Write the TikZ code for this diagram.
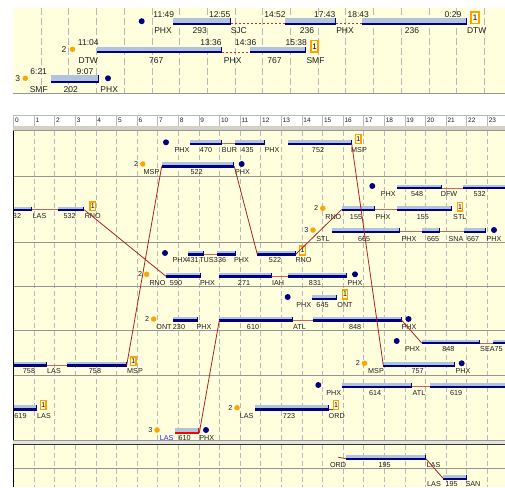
\documentclass[tikz,border=0pt]{standalone}
\usepackage{fontspec}
\setmainfont{Liberation Sans}
\usetikzlibrary{positioning}
\definecolor{cream}{RGB}{255,255,222}
\definecolor{barlite}{RGB}{176,196,222}
\definecolor{navy}{RGB}{0,0,128}
\definecolor{dotorange}{RGB}{255,165,0}
\definecolor{boxorange}{RGB}{255,160,0}
\definecolor{linkred}{RGB}{200,100,100}
\definecolor{tiered}{RGB}{170,35,35}
\definecolor{gapred}{RGB}{225,40,40}
\definecolor{sepgray}{RGB}{150,150,150}
\definecolor{gridgray}{RGB}{185,185,185}
\definecolor{band}{RGB}{212,208,200}
\definecolor{ink}{RGB}{30,30,30}
\definecolor{lasblue}{RGB}{40,40,255}
% one flight bar: [underline colour]{name}{x start}{x end}{y top}{y bottom}
\newcommand{\flight}[6][navy]{%
  \fill[barlite] (#3,#5) rectangle (#4,#6-2);
  \fill[#1] (#3,#6-2.2) rectangle (#4,#6);
  \fill[#1] (#4-1.2,#5) rectangle (#4,#6);
  \coordinate (#2-s) at (#3,#6-1.2);
  \coordinate (#2-e) at (#4,#6-1.2);}

\begin{document}
\begin{tikzpicture}[x=1pt,y=-1pt,
  lbl/.style={font=\fontsize{7.2}{8}\selectfont,inner sep=0pt,text height=5.2pt,text depth=0pt,text=ink},
  tlbl/.style={font=\fontsize{8.5}{9}\selectfont,inner sep=0pt,text height=6.1pt,text depth=0pt,text=ink},
  hr/.style={font=\fontsize{6.5}{7}\selectfont,inner sep=0pt,anchor=west,text=ink},
  odot/.style={circle,fill=dotorange,inner sep=0pt,minimum size=5.5pt},
  ndot/.style={circle,fill=navy,inner sep=0pt,minimum size=6pt},
  onebox/.style={draw=boxorange,line width=1.3pt,fill=cream,inner sep=0pt,minimum width=5.5pt,minimum height=8.8pt,font=\fontsize{7}{7}\selectfont},
  tbox/.style={onebox,line width=1.8pt,minimum width=7.5pt,minimum height=11.5pt,font=\fontsize{8}{8}\selectfont},
  link/.style={draw=linkred,line width=0.8pt},
  tie/.style={draw=tiered,line width=0.8pt},
  gap/.style={draw=gapred,line width=0.8pt,dash pattern=on 2pt off 2pt},
  sep/.style={draw=sepgray,line width=0.8pt},
  gridline/.style={draw=gridgray,line width=0.6pt,dash pattern=on 5pt off 3pt}]
\useasboundingbox (0,0) rectangle (505,487);
\fill[white] (0,0) rectangle (505,487);

% top panel
\fill[cream] (13,8) rectangle (505,93);
\foreach \k in {0,...,16}
  \draw[gridline,dash pattern=on 7pt off 3pt] ({41+27.7*\k},8) -- ({41+27.7*\k},92.5);
\draw[sep] (13,93) -- (505,93);

\node[ndot] (t1d) at (141.7,21.2) {};
\flight{t1f}{173.3}{231}{18.3}{25}
\flight{t1g}{285}{336}{18.3}{25}
\flight{t1h}{362.3}{467.3}{18.3}{25}
\draw[gap] (t1f-e) -- (t1g-s);
\draw[gap] (t1g-e) -- (t1h-s);
\node[tbox] (t1b) at (475,17.7) {1};
\node[tlbl] (t1t1) at (163.8,14.2) {11:49};
\node[tlbl] (t1t2) at (219.7,14.2) {12:55};
\node[tlbl] (t1t3) at (275,14.2) {14:52};
\node[tlbl] (t1t4) at (324.7,14.2) {17:43};
\node[tlbl] (t1t5) at (358.2,14.2) {18:43};
\node[tlbl] (t1t6) at (453,14.2) {0:29};
\node[tlbl] (t1l1) at (163,30) {PHX};
\node[tlbl] (t1l2) at (199.7,30) {293};
\node[tlbl] (t1l3) at (238.8,30) {SJC};
\node[tlbl] (t1l4) at (307,30) {236};
\node[tlbl] (t1l5) at (345,30) {PHX};
\node[tlbl] (t1l6) at (412,30) {236};
\node[tlbl] (t1l7) at (476.7,30) {DTW};

\node[odot] (t2o) at (72.5,49.3) {};
\node[tlbl,left=3pt of t2o] (t2n) {2};
\flight{t2f}{96.7}{222.3}{46.7}{53.3}
\flight{t2g}{250}{306}{46.7}{53.3}
\draw[gap] (t2f-e) -- (t2g-s);
\node[tbox] (t2b) at (314.5,46.3) {1};
\node[tlbl] (t2t1) at (88.3,42.5) {11:04};
\node[tlbl] (t2t2) at (211,42.5) {13:36};
\node[tlbl] (t2t3) at (245.8,42.5) {14:36};
\node[tlbl] (t2t4) at (296.3,42.5) {15:38};
\node[tlbl] (t2l1) at (88.3,60.3) {DTW};
\node[tlbl] (t2l2) at (156.3,60.3) {767};
\node[tlbl] (t2l3) at (232.7,60.3) {PHX};
\node[tlbl] (t2l4) at (274.5,60.3) {767};
\node[tlbl] (t2l5) at (315.5,60.3) {SMF};

\node[odot] (t3o) at (25.3,78.3) {};
\node[tlbl,left=2pt of t3o] (t3n) {3};
\flight{t3f}{50.7}{99.3}{75}{82.7}
\node[ndot] (t3d) at (108,78.3) {};
\node[tlbl] (t3t1) at (38.7,71) {6:21};
\node[tlbl] (t3t2) at (85,71) {9:07};
\node[tlbl] (t3l1) at (38.8,89.3) {SMF};
\node[tlbl] (t3l2) at (70.8,89.3) {202};
\node[tlbl] (t3l3) at (109.2,89.3) {PHX};

% hour ruler
\draw[gridgray,line width=0.6pt] (13,115.5) -- (505,115.5);
\foreach \h in {0,...,23} {
  \draw[gridgray,line width=0.6pt] ({13.5+20.6*\h},115.5) -- ({13.5+20.6*\h},125.5);
  \node[hr] (h\h) at ({14.8+20.6*\h},120.3) {\h};
}
\fill[band] (13,125.5) rectangle (505,130.5);
\draw[sepgray,line width=0.6pt] (13,130.5) -- (505,130.5);

% main and lower panels
\fill[cream] (13.5,131) rectangle (505,440);
\fill[cream] (13.5,445.3) rectangle (505,487);
\foreach \h in {1,...,23} {
  \draw[gridline] ({13.5+20.6*\h},131) -- ({13.5+20.6*\h},440);
  \draw[gridline] ({13.5+20.6*\h},445.3) -- ({13.5+20.6*\h},487);
}
\foreach \y in {176,242,286,330,375,468}
  \draw[sep] (13.5,\y) -- (505,\y);
\draw[sepgray,line width=0.6pt] (13,440.3) -- (505,440.3);
\fill[band!60] (13,440.6) rectangle (505,443.6);
\draw[black!80,line width=1.5pt] (13,444.4) -- (505,444.4);

\begin{scope}
\clip (13.5,131) rectangle (505,487);
% row a
\node[ndot] (a1d) at (166,142.3) {};
\flight{a1f}{190}{221.7}{140}{145}
\flight{a1g}{235}{265}{140}{145}
\flight{a1h}{288.3}{351.7}{140}{145}
\draw[link] (a1f-e) -- (a1g-s);
\node[onebox] (a1b) at (358.3,139) {1};
\node[lbl] (a1l1) at (182,150.2) {PHX};
\node[lbl] (a1l2) at (206,150.2) {470};
\node[lbl] (a1l3) at (229.5,150.2) {BUR};
\node[lbl] (a1l4) at (247.5,150.2) {435};
\node[lbl] (a1l5) at (272,150.2) {PHX};
\node[lbl] (a1l6) at (318,150.2) {752};
\node[lbl] (a1l7) at (359,150.2) {MSP};

\node[odot] (a2o) at (142.8,164) {};
\node[lbl,left=1.5pt of a2o] (a2n) {2};
\flight{a2f}{161.7}{234.3}{162}{167.5}
\node[ndot] (a2d) at (241.7,164) {};
\node[lbl] (a2l1) at (151.5,171.7) {MSP};
\node[lbl] (a2l2) at (196.7,171.7) {522};
\node[lbl] (a2l3) at (242.5,171.7) {PHX};

% row b
\node[ndot] (b1d) at (372.3,186) {};
\flight{b1f}{396.7}{441.7}{184.5}{189.3}
\flight{b1g}{463.3}{515}{184.5}{189.3}
\draw[link] (b1f-e) -- (b1g-s);
\node[lbl] (b1l1) at (388.3,194.2) {PHX};
\node[lbl] (b1l2) at (417,194.2) {548};
\node[lbl] (b1l3) at (449,194.2) {DFW};
\node[lbl] (b1l4) at (479.7,194.2) {532};

\flight{b2f}{5}{31.7}{206.5}{211}
\flight{b2g}{58.3}{84.3}{206.5}{211}
\draw[link] (b2f-e) -- (b2g-s);
\node[onebox] (b2b) at (92.7,206.3) {1};
\node[lbl] (b2l1) at (15,216.2) {532};
\node[lbl] (b2l2) at (39.5,216.2) {LAS};
\node[lbl] (b2l3) at (69.7,216.2) {532};
\node[lbl] (b2l4) at (92.8,216.2) {RNO};

\node[odot] (b2o) at (322.8,208.3) {};
\node[lbl,left=1.5pt of b2o] (b2n) {2};
\flight{b2h}{341.7}{375}{206}{210.7}
\flight{b2k}{396.7}{452.3}{206}{210.7}
\draw[link] (b2h-e) -- (b2k-s);
\node[onebox] (b2c) at (460,206.7) {1};
\node[lbl] (b2l5) at (333.3,216.5) {RNO};
\node[lbl] (b2l6) at (356,216.5) {155};
\node[lbl] (b2l7) at (383,216.5) {PHX};
\node[lbl] (b2l8) at (422.8,216.5) {155};
\node[lbl] (b2l9) at (459.8,216.5) {STL};

\node[odot] (b3o) at (313,230) {};
\node[lbl,left=1.5pt of b3o] (b3n) {3};
\flight{b3f}{331.7}{400}{228.3}{233}
\flight{b3g}{421.7}{440}{228.3}{233}
\flight{b3h}{464}{485.7}{228.3}{233}
\draw[link] (b3f-e) -- (b3g-s);
\draw[link] (b3g-e) -- (b3h-s);
\node[ndot] (b3d) at (494,230) {};
\node[lbl] (b3l1) at (323,238.5) {STL};
\node[lbl] (b3l2) at (364,238.5) {665};
\node[lbl] (b3l3) at (409,238.5) {PHX};
\node[lbl] (b3l4) at (433,238.5) {665};
\node[lbl] (b3l5) at (456,238.5) {SNA};
\node[lbl] (b3l6) at (473,238.5) {667};
\node[lbl] (b3l7) at (494,238.5) {PHX};

% row c
\node[ndot] (c1d) at (165,253) {};
\flight{c1f}{188.3}{204}{250.7}{255.5}
\flight{c1g}{217.3}{236}{250.7}{255.5}
\flight{c1h}{257.3}{295.7}{250.7}{255.5}
\draw[link] (c1f-e) -- (c1g-s);
\node[onebox] (c1b) at (302.5,250.5) {1};
\node[lbl] (c1l1) at (180,260) {PHX};
\node[lbl] (c1l2) at (192.5,260) {431};
\node[lbl] (c1l3) at (206.5,260) {TUS};
\node[lbl] (c1l4) at (220,260) {336};
\node[lbl] (c1l5) at (241.5,260) {PHX};
\node[lbl] (c1l6) at (275,260) {522};
\node[lbl] (c1l7) at (303.5,260) {RNO};

\node[odot] (c2o) at (146.7,274.3) {};
\node[lbl,left=1.5pt of c2o] (c2n) {2};
\flight{c2f}{166}{200.7}{272.7}{277.5}
\flight{c2g}{219.3}{271.7}{272.7}{277.5}
\flight{c2h}{288.3}{346.7}{272.7}{277.5}
\draw[link] (c2g-e) -- (c2h-s);
\node[ndot] (c2d) at (355,274.3) {};
\node[lbl] (c2l1) at (157.5,283) {RNO};
\node[lbl] (c2l2) at (176,283) {590};
\node[lbl] (c2l3) at (207.5,283) {PHX};
\node[lbl] (c2l4) at (244,283) {271};
\node[lbl] (c2l5) at (278,283) {IAH};
\node[lbl] (c2l6) at (315,283) {831};
\node[lbl] (c2l7) at (355,283) {PHX};

% row d
\node[ndot] (d1d) at (287.7,297) {};
\flight{d1f}{311.7}{337}{295}{299.7}
\node[onebox] (d1b) at (345,294.5) {1};
\node[lbl] (d1l1) at (303.7,304.5) {PHX};
\node[lbl] (d1l2) at (322.5,304.5) {645};
\node[lbl] (d1l3) at (345,304.5) {ONT};

\node[odot] (d2o) at (153.7,319) {};
\node[lbl,left=1.5pt of d2o] (d2n) {2};
\flight{d2f}{173.3}{197.7}{316.7}{321.5}
\flight{d2g}{219.3}{292.7}{316.7}{321.5}
\flight{d2h}{312.7}{401.7}{316.7}{321.5}
\draw[link] (d2g-e) -- (d2h-s);
\node[ndot] (d2d) at (408.5,319) {};
\node[lbl] (d2l1) at (164,327) {ONT};
\node[lbl] (d2l2) at (179,327) {230};
\node[lbl] (d2l3) at (204,327) {PHX};
\node[lbl] (d2l4) at (253,327) {610};
\node[lbl] (d2l5) at (299.5,327) {ATL};
\node[lbl] (d2l6) at (355,327) {848};
\node[lbl] (d2l7) at (409,327) {PHX};

% row e
\node[ndot] (e1d) at (396.7,341) {};
\flight{e1f}{421.7}{480}{339.5}{344.2}
\flight{e1g}{493.3}{515}{339.5}{344.2}
\draw[link] (e1f-e) -- (e1g-s);
\node[lbl] (e1l1) at (412.5,349) {PHX};
\node[lbl] (e1l2) at (448.3,349) {848};
\node[lbl,anchor=west] (e1l3) at (480,349) {SEA75};

\node[odot] (e2o) at (364.5,363.3) {};
\node[lbl,left=1.5pt of e2o] (e2n) {2};
\flight{e2f}{383.3}{455}{362}{366.7}
\node[ndot] (e2d) at (461.7,363.3) {};
\node[lbl] (e2l1) at (376,371) {MSP};
\node[lbl] (e2l2) at (417.5,371) {757};
\node[lbl] (e2l3) at (463,371) {PHX};

\flight{e3f}{5}{46.7}{361.7}{366.5}
\flight{e3g}{66.7}{126.7}{361.7}{366.5}
\draw[link] (e3f-e) -- (e3g-s);
\node[onebox] (e3b) at (133.3,361.3) {1};
\node[lbl] (e3l1) at (29,371) {758};
\node[lbl] (e3l2) at (54,371) {LAS};
\node[lbl] (e3l3) at (95,371) {758};
\node[lbl] (e3l4) at (135,371) {MSP};

% row f
\node[ndot] (f1d) at (318.3,385) {};
\flight{f1f}{341.7}{411.7}{383}{387.7}
\flight{f1g}{430}{515}{383}{387.7}
\draw[link] (f1f-e) -- (f1g-s);
\node[lbl] (f1l1) at (333.8,393) {PHX};
\node[lbl] (f1l2) at (375,393) {614};
\node[lbl] (f1l3) at (419,393) {ATL};
\node[lbl] (f1l4) at (456,393) {619};

\flight{f2f}{5}{36.7}{405}{410.5}
\node[onebox] (f2b) at (43.3,405) {1};
\node[lbl] (f2l1) at (20.5,415.5) {619};
\node[lbl] (f2l2) at (44,415.5) {LAS};

\node[odot] (f2o) at (237,407.7) {};
\node[lbl,left=1.5pt of f2o] (f2n) {2};
\flight{f2g}{255}{329}{405}{410.5}
\node[onebox] (f2c) at (336,405) {1};
\draw[tie] (f2g-e) -- (f2g-e -| f2c.west);
\node[lbl] (f2l3) at (246.7,415.5) {LAS};
\node[lbl] (f2l4) at (289,415.5) {723};
\node[lbl] (f2l5) at (336.7,415.5) {ORD};

\node[odot] (f3o) at (157,430) {};
\node[lbl,left=1.5pt of f3o] (f3n) {3};
\flight[red]{f3f}{175}{199.3}{427.7}{434}
\node[ndot] (f3d) at (206,430) {};
\node[lbl,text=lasblue] (f3l1) at (166.7,438) {LAS};
\node[lbl] (f3l2) at (184.7,438) {610};
\node[lbl] (f3l3) at (206.7,438) {PHX};

% lower panel
\coordinate (g0) at (338.3,457.3);
\flight{g1f}{345.7}{425.7}{455}{459.8}
\flight{g2f}{443.3}{466.7}{475}{479.7}
\node[lbl] (g1l1) at (338,464.5) {ORD};
\node[lbl] (g1l2) at (384.5,464.5) {195};
\node[lbl] (g1l3) at (433.5,464.5) {LAS};
\node[lbl] (g2l1) at (434,484) {LAS};
\node[lbl] (g2l2) at (451.7,484) {195};
\node[lbl] (g2l3) at (473,484) {SAN};

% turn lines between flights
\draw[tie] (b2g-e) -- (c2f-s);
\draw[tie] (a1h-e) -- (e2f-s);
\draw[tie] (a2f-e) -- (c1h-s);
\draw[tie] (e3g-e) -- (a2f-s);
\draw[tie] (c1h-e) -- (b2h-s);
\draw[tie] (f3f-e) -- (d2g-s);
\draw[tie] (d2h-e) -- (e1f-s);
\draw[tie] (g0) -- (g1f-s);
\draw[tie] (g1f-e) -- (g2f-s);
\end{scope}

\draw[black,line width=1.5pt] (13.5,130.5) -- (13.5,440);
\draw[black,line width=1.5pt] (13.5,444.4) -- (13.5,487);
\end{tikzpicture}
\end{document}
